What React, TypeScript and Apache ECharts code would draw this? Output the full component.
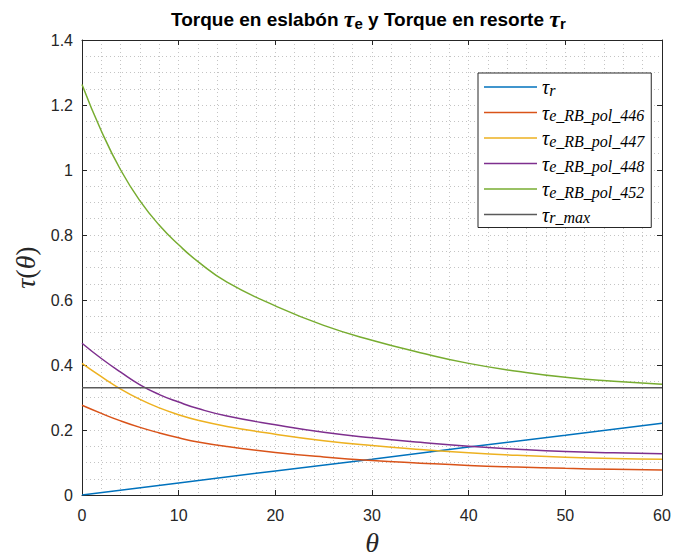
import React, { useEffect, useRef } from "react";
import * as echarts from "echarts";

// θ samples for the τ_e curves
const thetaE = [0, 2, 4, 6, 8, 10, 12, 15, 20, 25, 30, 35, 40, 45, 50, 55, 60];
const tauE446 = [0.276, 0.251, 0.228, 0.208, 0.191, 0.176, 0.163, 0.149, 0.131, 0.117, 0.106, 0.098, 0.091, 0.086, 0.082, 0.079, 0.077];
const tauE447 = [0.405, 0.364, 0.326, 0.294, 0.268, 0.247, 0.23, 0.211, 0.187, 0.167, 0.152, 0.14, 0.13, 0.122, 0.116, 0.112, 0.11];
const tauE448 = [0.467, 0.42, 0.378, 0.339, 0.309, 0.286, 0.266, 0.243, 0.216, 0.193, 0.176, 0.162, 0.15, 0.141, 0.134, 0.13, 0.127];
const tauE452 = [1.263, 1.12, 1.0, 0.905, 0.83, 0.77, 0.718, 0.655, 0.582, 0.522, 0.476, 0.438, 0.405, 0.381, 0.362, 0.35, 0.341];

// τ_r (spring torque)
const thetaR = [0, 10, 20, 30, 40, 50, 60];
const tauR = [0, 0.037, 0.074, 0.11, 0.148, 0.184, 0.221];

// τ_r_max
const thetaMax = [0, 60];
const tauRMax = [0.33, 0.33];

const legendSubs: Record<string, string> = {
  tr: "r",
  e446: "e_RB_pol_446",
  e447: "e_RB_pol_447",
  e448: "e_RB_pol_448",
  e452: "e_RB_pol_452",
  rmax: "r_max",
};

const pairs = (xs: number[], ys: number[]) => xs.map((x, i) => [x, ys[i]]);

const AX = "#262626";
const GRID = "#c4c4c4";

export default function App() {
  const ref = useRef<HTMLDivElement>(null);
  useEffect(() => {
    if (!ref.current) return;
    const chart = echarts.init(ref.current, undefined, { renderer: "svg" });
    const dotted = { color: GRID, width: 1, type: [1, 3] as any };
    const labelStyle = { color: AX, fontFamily: "Liberation Sans", fontSize: 16 };
    const mkLine = (name: string, data: number[][], color: string, width = 1.5, smooth: any = true) => ({
      name,
      type: "line",
      data,
      showSymbol: false,
      symbol: "none",
      smooth,
      lineStyle: { color, width },
      itemStyle: { color },
      xAxisIndex: 0,
      yAxisIndex: 0,
    });
    chart.setOption({
      animation: false,
      backgroundColor: "#fff",
      title: {
        text: "{a|Torque en eslabón }{t|τ}{s|e}{a| y Torque en resorte }{t|τ}{s|r}",
        left: 166,
        top: 2,
        textStyle: {
          rich: {
            a: { fontFamily: "Liberation Sans", fontWeight: "bold", fontSize: 19, color: "#000", lineHeight: 24 },
            t: { fontFamily: "Liberation Serif", fontStyle: "italic", fontSize: 24, color: "#000", lineHeight: 24 },
            s: { fontFamily: "Liberation Sans", fontWeight: "bold", fontSize: 15, color: "#000", lineHeight: 12, verticalAlign: "bottom" },
          },
        },
      },
      grid: { left: 82, top: 40, width: 580, height: 455, containLabel: false, outerBoundsMode: "none" },
      legend: {
        left: 478,
        top: 73,
        orient: "vertical",
        padding: [4, 7, 2, 6],
        itemGap: 4.5,
        itemWidth: 53,
        itemHeight: 1.6,
        icon: "rect",
        borderColor: AX,
        borderWidth: 1,
        backgroundColor: "#fff",
        selectedMode: false,
        data: ["tr", "e446", "e447", "e448", "e452", "rmax"],
        formatter: (name: string) => `{t|τ}{s|${legendSubs[name]}}`,
        textStyle: {
          rich: {
            t: { fontFamily: "Liberation Serif", fontStyle: "italic", fontSize: 20, lineHeight: 22, color: "#000" },
            s: { fontFamily: "Liberation Serif", fontStyle: "italic", fontSize: 16, lineHeight: 12, color: "#000", verticalAlign: "bottom" },
          },
        },
      },
      xAxis: [
        {
          type: "value",
          min: 0,
          max: 60,
          interval: 10,
          position: "bottom",
          name: "θ",
          nameLocation: "middle",
          nameGap: 35,
          nameTextStyle: { fontFamily: "Liberation Serif", fontStyle: "italic", fontSize: 28, lineHeight: 24, color: AX },
          axisLine: { show: true, lineStyle: { color: AX, width: 1 } },
          axisTick: { show: true, inside: true, length: 5, lineStyle: { color: AX } },
          axisLabel: { ...labelStyle, margin: 12 },
          splitLine: { show: true, lineStyle: dotted },
          minorTick: { show: false, splitNumber: 5 },
          minorSplitLine: { show: true, lineStyle: dotted },
        },
        {
          type: "value",
          min: 0,
          max: 60,
          interval: 10,
          position: "top",
          axisLine: { show: true, onZero: false, lineStyle: { color: AX, width: 1 } },
          axisTick: { show: true, inside: true, length: 5, lineStyle: { color: AX } },
          axisLabel: { show: false },
          splitLine: { show: false },
        },
      ],
      yAxis: [
        {
          type: "value",
          min: 0,
          max: 1.4,
          interval: 0.2,
          position: "left",
          name: "{i|τ}{p|(}{i|θ}{p|)}",
          nameLocation: "middle",
          nameGap: 40,
          nameRotate: 90,
          nameTextStyle: {
            rich: {
              i: { fontFamily: "Liberation Serif", fontStyle: "italic", fontSize: 28, color: AX },
              p: { fontFamily: "Liberation Serif", fontSize: 28, color: AX },
            },
          },
          axisLine: { show: true, lineStyle: { color: AX, width: 1 } },
          axisTick: { show: true, inside: true, length: 5, lineStyle: { color: AX } },
          axisLabel: { ...labelStyle, margin: 9 },
          splitLine: { show: true, lineStyle: dotted },
          minorTick: { show: false, splitNumber: 4 },
          minorSplitLine: { show: true, lineStyle: dotted },
        },
        {
          type: "value",
          min: 0,
          max: 1.4,
          interval: 0.2,
          position: "right",
          axisLine: { show: true, onZero: false, lineStyle: { color: AX, width: 1 } },
          axisTick: { show: true, inside: true, length: 5, lineStyle: { color: AX } },
          axisLabel: { show: false },
          splitLine: { show: false },
        },
      ],
      series: [
        mkLine("tr", pairs(thetaR, tauR), "#0072BD", 1.5, false),
        mkLine("e446", pairs(thetaE, tauE446), "#D95319"),
        mkLine("e447", pairs(thetaE, tauE447), "#EDB120"),
        mkLine("e448", pairs(thetaE, tauE448), "#7E2F8E"),
        mkLine("e452", pairs(thetaE, tauE452), "#77AC30"),
        mkLine("rmax", pairs(thetaMax, tauRMax), "#5a5a5a", 1.3, false),
      ],
    });
    return () => chart.dispose();
  }, []);
  return (
    <div
      ref={ref}
      style={{ position: "fixed", left: 0, top: 0, width: 675, height: 556 }}
    />
  );
}
